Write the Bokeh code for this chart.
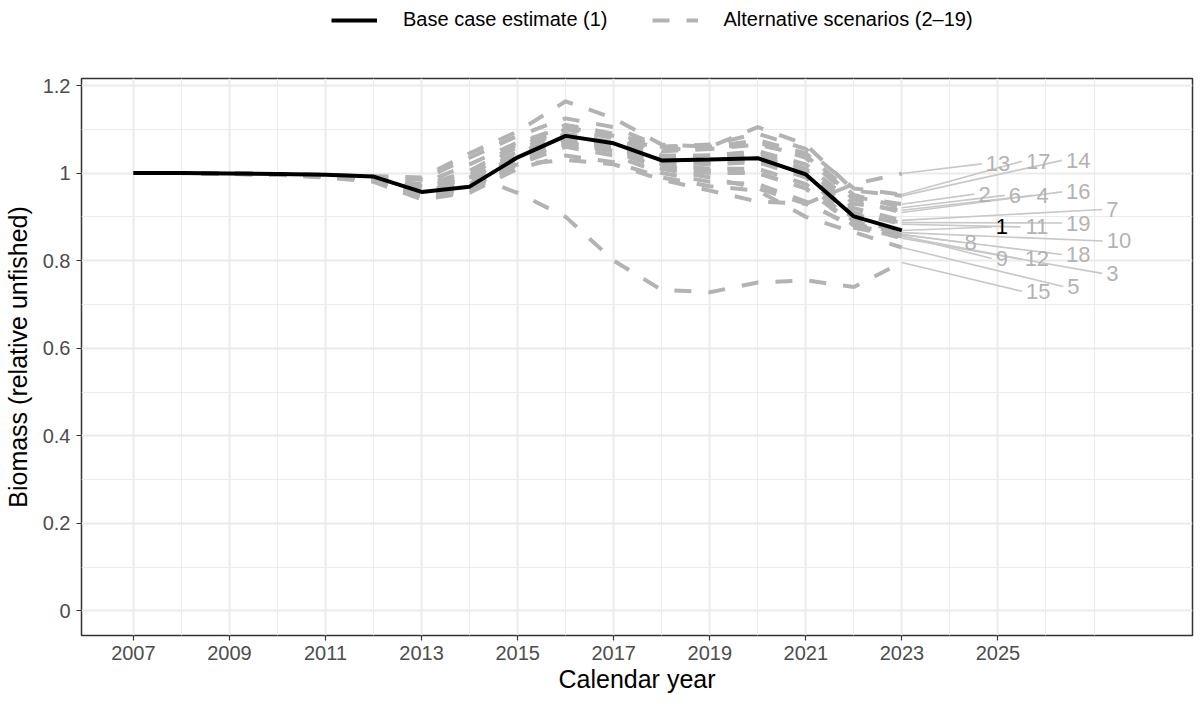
from bokeh.plotting import figure
from bokeh.layouts import column
from bokeh.models import Range1d, FixedTicker, Legend, LegendItem, ColumnDataSource
from bokeh.embed import file_html
from bokeh.resources import INLINE
from bokeh.core.properties import value

# ---------------- data ----------------
years = list(range(2007, 2024))

base = [1.000, 1.000, 0.999, 0.998, 0.996, 0.992, 0.957, 0.969, 1.036, 1.085,
        1.068, 1.029, 1.031, 1.034, 0.997, 0.901, 0.869]

s2 = [1.000, 1.000, 0.999, 0.997, 0.993, 0.985, 0.975, 1.020, 1.070, 1.105, 1.085, 1.055, 1.055, 1.065, 1.040, 0.945, 0.929]
s3 = [1.000, 1.000, 0.999, 0.997, 0.992, 0.983, 0.945, 0.960, 1.020, 1.065, 1.050, 1.010, 1.000, 1.000, 0.965, 0.880, 0.851]
s4 = [1.000, 1.000, 0.999, 0.998, 0.995, 0.988, 0.965, 0.985, 1.050, 1.100, 1.080, 1.040, 1.040, 1.050, 1.020, 0.930, 0.915]
s5 = [1.000, 1.000, 0.998, 0.996, 0.990, 0.980, 0.940, 0.955, 1.010, 1.040, 1.025, 0.990, 0.970, 0.960, 0.900, 0.865, 0.830]
s6 = [1.000, 1.000, 0.999, 0.998, 0.994, 0.987, 0.970, 1.005, 1.065, 1.110, 1.090, 1.060, 1.060, 1.075, 1.045, 0.950, 0.921]
s7 = [1.000, 1.000, 0.999, 0.998, 0.995, 0.990, 0.960, 0.975, 1.045, 1.090, 1.070, 1.035, 1.040, 1.045, 1.010, 0.920, 0.892]
s8 = [1.000, 1.000, 0.999, 0.997, 0.993, 0.986, 0.950, 0.965, 1.030, 1.075, 1.055, 1.020, 1.010, 1.010, 0.975, 0.890, 0.860]
s9 = [1.000, 1.000, 0.999, 0.997, 0.993, 0.985, 0.950, 0.962, 1.025, 1.070, 1.050, 1.015, 1.005, 1.000, 0.965, 0.885, 0.857]
s10 = [1.000, 1.000, 0.999, 0.998, 0.994, 0.988, 0.955, 0.968, 1.035, 1.080, 1.060, 1.025, 1.020, 1.025, 0.990, 0.895, 0.864]
s11 = [1.000, 1.000, 0.999, 0.998, 0.995, 0.990, 0.958, 0.972, 1.040, 1.085, 1.065, 1.030, 1.035, 1.040, 1.005, 0.910, 0.883]
s12 = [1.000, 1.000, 0.998, 0.996, 0.991, 0.982, 0.945, 0.958, 1.020, 1.060, 1.040, 1.000, 0.980, 0.975, 0.935, 0.875, 0.855]
s13 = [1.000, 1.000, 0.999, 0.997, 0.992, 0.983, 0.955, 0.990, 1.020, 1.030, 1.020, 0.985, 0.960, 0.935, 0.930, 0.975, 0.999]
s14 = [1.000, 1.000, 0.999, 0.998, 0.996, 0.993, 0.990, 1.045, 1.095, 1.164, 1.125, 1.065, 1.060, 1.105, 1.065, 0.960, 0.948]
s15 = [1.000, 1.000, 0.999, 0.997, 0.994, 0.988, 0.965, 0.995, 0.955, 0.900, 0.800, 0.733, 0.728, 0.750, 0.755, 0.740, 0.796]
s16 = [1.000, 1.000, 0.999, 0.998, 0.995, 0.989, 0.968, 0.995, 1.060, 1.100, 1.085, 1.050, 1.055, 1.070, 1.035, 0.940, 0.910]
s17 = [1.000, 1.000, 0.999, 0.998, 0.996, 0.991, 0.985, 1.035, 1.085, 1.125, 1.105, 1.060, 1.065, 1.090, 1.055, 0.965, 0.951]
s18 = [1.000, 1.000, 0.999, 0.997, 0.993, 0.986, 0.952, 0.966, 1.030, 1.070, 1.050, 1.010, 0.990, 0.965, 0.930, 0.880, 0.859]
s19 = [1.000, 1.000, 0.999, 0.998, 0.994, 0.989, 0.960, 0.972, 1.040, 1.085, 1.065, 1.030, 1.025, 1.030, 0.995, 0.905, 0.887]

scenario_ids = [2, 3, 4, 5, 6, 7, 8, 9, 10, 11, 12, 13, 14, 15, 16, 17, 18, 19]
scenarios = [s2, s3, s4, s5, s6, s7, s8, s9, s10, s11, s12, s13, s14, s15, s16, s17, s18, s19]

# repelled label placement (data coordinates) for scenario ids 1..19
label_ids = [1, 2, 3, 4, 5, 6, 7, 8, 9, 10, 11, 12, 13, 14, 15, 16, 17, 18, 19]
label_x = [2025.08, 2024.72, 2027.38, 2025.93, 2026.57, 2025.35, 2027.38, 2024.43, 2025.08, 2027.52,
           2025.81, 2025.81, 2025.00, 2026.67, 2025.84, 2026.67, 2025.84, 2026.67, 2026.67]
label_y = [0.877, 0.952, 0.771, 0.949, 0.741, 0.949, 0.917, 0.842, 0.805, 0.845,
           0.877, 0.804, 1.021, 1.029, 0.730, 0.957, 1.027, 0.814, 0.886]

legend_labels = ["Base case estimate (1)", "Alternative scenarios (2\u201319)"]

x_major = list(range(2007, 2026, 2))
x_minor = list(range(2008, 2027, 2)) + [2027]
y_major = [0, 0.2, 0.4, 0.6, 0.8, 1, 1.2]
y_major_labels = ["0", "0.2", "0.4", "0.6", "0.8", "1", "1.2"]
y_minor = [0.1, 0.3, 0.5, 0.7, 0.9, 1.1]

FONT = "Liberation Sans"
GRAY = "#B3B3B3"
DASH = "17 17"

# ---------------- legend strip ----------------
W = 1186
leg_fig = figure(width=W, height=32, x_range=Range1d(0, 1), y_range=Range1d(0, 1),
                 x_axis_type=None, y_axis_type=None, min_border=0,
                 output_backend="svg", toolbar_location=None)
leg_fig.title = None
leg_fig.outline_line_color = None
leg_fig.background_fill_color = "white"
leg_fig.border_fill_color = "white"
# off-range placeholder renderers: only their legend swatches are visible
lb = leg_fig.line([5, 6], [5, 6], line_color="black", line_width=4)
lg = leg_fig.line([5, 6], [5, 6], line_color=GRAY, line_width=4, line_dash=DASH, line_cap="butt")
legend = Legend(items=[LegendItem(label=legend_labels[0], renderers=[lb]),
                       LegendItem(label=legend_labels[1], renderers=[lg])],
                orientation="horizontal", location=(250, 1))
legend.border_line_color = None
legend.background_fill_alpha = 0
legend.label_text_font = FONT
legend.label_text_font_size = "20px"
legend.label_text_color = "black"
legend.glyph_width = 46
legend.glyph_height = 18
legend.label_height = 18
legend.label_standoff = 26
legend.spacing = 44
legend.padding = 0
legend.margin = 0
leg_fig.add_layout(legend, "center")

# ---------------- main figure ----------------
X0, X1 = 2005.92, 2029.05
FW, FH = 1111, 557
p = figure(frame_width=FW, frame_height=FH,
           min_border_left=73, min_border_right=2, min_border_top=46, min_border_bottom=58,
           x_range=Range1d(X0, X1), y_range=Range1d(-0.056, 1.216),
           output_backend="svg", toolbar_location=None)
p.title = None
p.background_fill_color = "white"
p.border_fill_color = "white"
p.outline_line_color = "#333333"
p.outline_line_width = 1.5

p.xaxis.ticker = FixedTicker(ticks=x_major, minor_ticks=x_minor)
p.yaxis.ticker = FixedTicker(ticks=y_major, minor_ticks=y_minor)
p.yaxis.major_label_overrides = {v: l for v, l in zip(y_major, y_major_labels)}
p.xaxis.major_label_overrides = {v: str(v) for v in x_major}

for ax in (p.xaxis, p.yaxis):
    ax.axis_line_color = None
    ax.major_tick_in = 0
    ax.major_tick_out = 5
    ax.major_tick_line_color = "#333333"
    ax.major_tick_line_width = 1.2
    ax.minor_tick_line_color = None
    ax.major_label_text_font = FONT
    ax.major_label_text_font_size = "20px"
    ax.major_label_text_color = "#4D4D4D"
    ax.axis_label_text_font = FONT
    ax.axis_label_text_font_size = "25px"
    ax.axis_label_text_font_style = "normal"
    ax.axis_label_text_color = "black"
p.xaxis.axis_label = "Calendar year"
p.yaxis.axis_label = "Biomass (relative unfished)"
p.xaxis.major_label_standoff = 5
p.xaxis.axis_label_standoff = 2
p.yaxis.major_label_standoff = 6
p.yaxis.axis_label_standoff = 8

for g in (p.xgrid, p.ygrid):
    g.grid_line_color = "#EBEBEB"
    g.grid_line_width = 2
    g.minor_grid_line_color = "#EBEBEB"
    g.minor_grid_line_width = 1

for s in scenarios:
    p.line(years, s, line_color=GRAY, line_width=4, line_dash=DASH, line_cap="butt")

p.line(years, base, line_color="black", line_width=4)

# label segments (ggrepel-style)
end_values = {1: base[-1]}
for sid, s in zip(scenario_ids, scenarios):
    end_values[sid] = s[-1]
px_per_year = FW / (X1 - X0)
seg_x1 = []
for lid, lx in zip(label_ids, label_x):
    half_w = len(str(lid)) * 0.556 * 22 / 2 + 4
    seg_x1.append(lx - half_w / px_per_year)
seg_src = ColumnDataSource(dict(
    x0=[years[-1]] * len(label_ids),
    y0=[end_values[i] for i in label_ids],
    x1=seg_x1, y1=label_y))
p.segment("x0", "y0", "x1", "y1", source=seg_src, line_color="#C8C8C8", line_width=1.6)

txt_src = ColumnDataSource(dict(
    x=label_x, y=label_y, t=[str(i) for i in label_ids],
    c=["black" if i == 1 else GRAY for i in label_ids]))
p.text("x", "y", text="t", source=txt_src, text_color="c", text_align="center",
       text_baseline="middle", text_font=value(FONT), text_font_size="22px")

layout = column(leg_fig, p, spacing=0)
open("out.html", "w").write(file_html(layout, INLINE))
